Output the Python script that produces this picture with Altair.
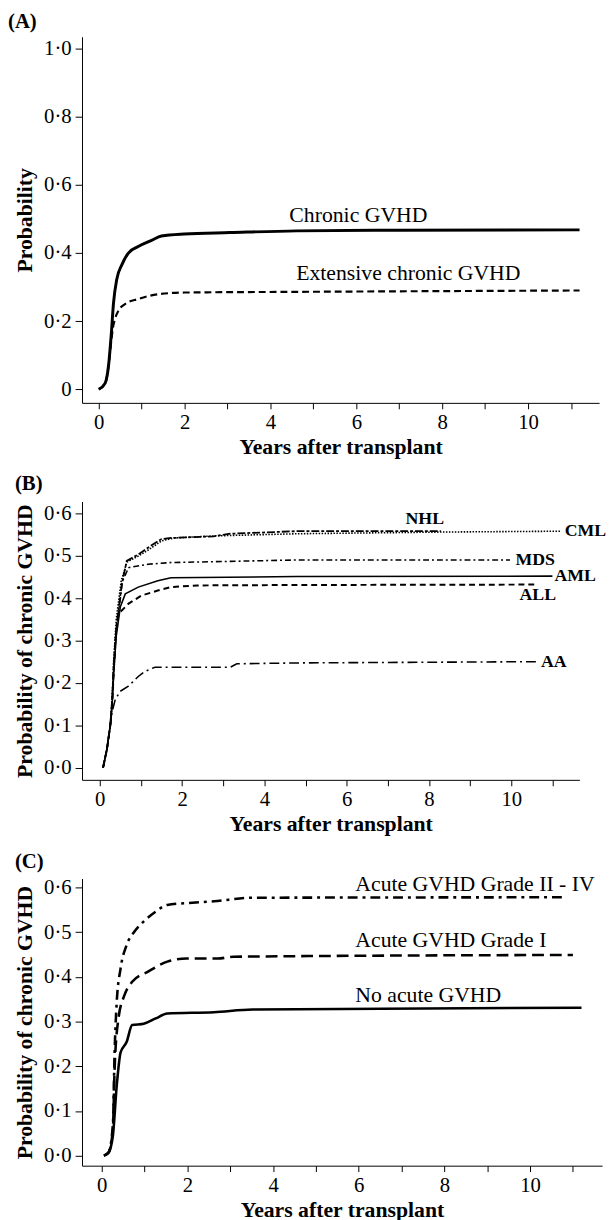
import altair as alt
import pandas as pd

FONT = "Liberation Serif"

# ---------------- Panel A data ----------------
a_chronic_x = [0.0, 0.15, 0.23, 0.29, 0.345, 0.42, 0.54, 0.69, 0.92, 1.23, 1.46, 1.99, 3.06, 4.6, 7.0, 11.2]
a_chronic_y = [0.0, 0.018, 0.072, 0.159, 0.255, 0.323, 0.366, 0.40, 0.419, 0.437, 0.45, 0.456, 0.46, 0.465, 0.467, 0.468]
a_ext_x = [0.0, 0.15, 0.23, 0.29, 0.33, 0.38, 0.46, 0.61, 0.92, 1.38, 1.99, 4.6, 11.2]
a_ext_y = [0.0, 0.018, 0.07, 0.14, 0.18, 0.207, 0.231, 0.25, 0.265, 0.279, 0.284, 0.286, 0.29]
a_labels = ["Chronic GVHD", "Extensive chronic GVHD"]
a_label_x = [4.44, 4.6]
a_label_y = [0.51, 0.342]
a_yticks = [0, 0.2, 0.4, 0.6, 0.8, 1.0]

# ---------------- Panel B data ----------------
b_nhl_x = [0.08, 0.175, 0.256, 0.30, 0.336, 0.40, 0.535, 0.655, 0.935, 1.17, 1.49, 1.73, 2.77, 3.17, 4.77, 8.29]
b_nhl_y = [0.0, 0.044, 0.10, 0.16, 0.24, 0.33, 0.433, 0.488, 0.503, 0.519, 0.539, 0.542, 0.546, 0.552, 0.558, 0.558]
b_cml_x = [0.08, 0.175, 0.256, 0.30, 0.336, 0.40, 0.52, 0.66, 0.95, 1.2, 1.5, 1.8, 2.8, 4.8, 8.3, 11.2]
b_cml_y = [0.0, 0.044, 0.10, 0.16, 0.25, 0.35, 0.44, 0.485, 0.50, 0.515, 0.535, 0.542, 0.547, 0.552, 0.556, 0.558]
b_mds_x = [0.08, 0.175, 0.256, 0.30, 0.336, 0.40, 0.55, 0.70, 1.17, 1.73, 4.77, 9.97]
b_mds_y = [0.0, 0.044, 0.10, 0.15, 0.22, 0.32, 0.44, 0.472, 0.48, 0.484, 0.49, 0.49]
b_aml_x = [0.08, 0.175, 0.256, 0.30, 0.336, 0.40, 0.50, 0.62, 0.935, 1.41, 1.73, 4.77, 11.0]
b_aml_y = [0.0, 0.044, 0.10, 0.15, 0.22, 0.31, 0.38, 0.41, 0.426, 0.441, 0.448, 0.451, 0.452]
b_all_x = [0.08, 0.175, 0.256, 0.30, 0.336, 0.38, 0.455, 0.70, 1.01, 1.41, 1.73, 2.37, 4.77, 10.6]
b_all_y = [0.0, 0.044, 0.10, 0.15, 0.22, 0.30, 0.363, 0.387, 0.406, 0.418, 0.426, 0.43, 0.431, 0.432]
b_aa_x = [0.08, 0.175, 0.256, 0.296, 0.376, 0.496, 0.695, 0.935, 1.1, 1.34, 3.17, 3.33, 4.77, 10.65]
b_aa_y = [0.0, 0.044, 0.099, 0.13, 0.161, 0.18, 0.192, 0.215, 0.227, 0.237, 0.237, 0.245, 0.247, 0.25]
b_labels = ["NHL", "CML", "MDS", "AML", "ALL", "AA"]
b_label_x = [7.43, 11.3, 10.1, 11.05, 10.2, 10.72]
b_label_y = [0.586, 0.558, 0.491, 0.451, 0.407, 0.25]
bc_yticks = [0.0, 0.1, 0.2, 0.3, 0.4, 0.5, 0.6]

# ---------------- Panel C data ----------------
c_none_x = [0.05, 0.16, 0.26, 0.35, 0.44, 0.58, 0.71, 0.98, 1.26, 1.53, 2.62, 3.52, 11.2]
c_none_y = [0.0, 0.007, 0.045, 0.157, 0.231, 0.254, 0.292, 0.295, 0.307, 0.318, 0.321, 0.327, 0.331]
c_g1_x = [0.05, 0.16, 0.26, 0.30, 0.39, 0.53, 0.71, 1.07, 1.53, 1.98, 2.71, 3.07, 11.0]
c_g1_y = [0.0, 0.007, 0.06, 0.194, 0.307, 0.359, 0.389, 0.411, 0.434, 0.441, 0.441, 0.445, 0.449]
c_g24_x = [0.05, 0.16, 0.26, 0.30, 0.35, 0.44, 0.58, 0.76, 0.98, 1.26, 1.53, 1.98, 2.62, 3.52, 10.85]
c_g24_y = [0.0, 0.007, 0.07, 0.231, 0.344, 0.419, 0.471, 0.501, 0.524, 0.546, 0.561, 0.565, 0.569, 0.577, 0.578]
c_labels = ["Acute GVHD Grade II - IV", "Acute GVHD Grade I", "No acute GVHD"]
c_label_x = [5.92, 5.92, 5.92]
c_label_y = [0.607, 0.483, 0.36]

x_ticks = list(range(12))
X_TITLE = "Years after transplant"


def x_axis():
    return alt.Axis(
        title=X_TITLE, values=x_ticks,
        labelExpr="datum.value % 2 == 0 ? datum.label : ''",
        tickSize=6, labelPadding=3, titlePadding=4,
    )


def y_axis(title, ticks, zero_plain):
    if zero_plain:
        expr = "datum.value == 0 ? '0' : replace(format(datum.value, '.1f'), '.', '\u00b7')"
    else:
        expr = "replace(format(datum.value, '.1f'), '.', '\u00b7')"
    return alt.Axis(title=title, values=ticks, labelExpr=expr,
                    tickSize=7, labelPadding=4, titlePadding=7)


def panel(series, labels, xdom, ydom, ytitle, yticks, zero_plain,
          width, height, tag, tag_dx, tag_dy, label_style, interp):
    xa = x_axis()
    ya = y_axis(ytitle, yticks, zero_plain)
    xs = alt.Scale(domain=xdom, nice=False, zero=False)
    ys = alt.Scale(domain=ydom, nice=False, zero=False)
    layers = []
    for xv, yv, dash, sw in series:
        df = pd.DataFrame({"x": xv, "y": yv})
        kw = dict(color="black", strokeWidth=sw, clip=True, interpolate=interp)
        if dash:
            kw["strokeDash"] = dash
        layers.append(
            alt.Chart(df).mark_line(**kw).encode(
                x=alt.X("x:Q", scale=xs, axis=xa),
                y=alt.Y("y:Q", scale=ys, axis=ya),
            )
        )
    lx, ly, lt = labels
    ldf = pd.DataFrame({"x": lx, "y": ly, "t": lt})
    layers.append(
        alt.Chart(ldf).mark_text(align="left", baseline="middle", color="black",
                                 font=FONT, **label_style).encode(
            x=alt.X("x:Q", scale=xs, axis=xa),
            y=alt.Y("y:Q", scale=ys, axis=ya),
            text="t:N",
        )
    )
    tdf = pd.DataFrame({"t": [tag]})
    layers.append(
        alt.Chart(tdf).mark_text(align="left", baseline="middle", color="black",
                                 font=FONT, fontSize=21, fontWeight="bold").encode(
            x=alt.value(tag_dx), y=alt.value(tag_dy), text="t:N",
        )
    )
    return alt.layer(*layers).properties(width=width, height=height)


panel_a = panel(
    [
        (a_chronic_x, a_chronic_y, None, 3),
        (a_ext_x, a_ext_y, [7, 4], 2.2),
    ],
    (a_label_x, a_label_y, a_labels),
    [-0.39, 11.655], [-0.04, 1.035], "Probability", a_yticks, True,
    524, 371, "(A)", -75, -15, dict(fontSize=22), "monotone",
)

panel_b = panel(
    [
        (b_nhl_x, b_nhl_y, [8, 2, 3, 2], 1.8),
        (b_cml_x, b_cml_y, [1.5, 1.5], 1.6),
        (b_mds_x, b_mds_y, [6, 3, 2, 3], 1.6),
        (b_aml_x, b_aml_y, None, 1.6),
        (b_all_x, b_all_y, [6, 4], 2),
        (b_aa_x, b_aa_y, [10, 4, 2, 4], 1.6),
    ],
    (b_label_x, b_label_y, b_labels),
    [-0.432, 11.655], [-0.029, 0.628], "Probability of chronic GVHD", bc_yticks, False,
    504, 282, "(B)", -68, -18, dict(fontSize=18, fontWeight="bold"), "linear",
)

panel_c = panel(
    [
        (c_none_x, c_none_y, None, 2.6),
        (c_g1_x, c_g1_y, [12, 6], 2.6),
        (c_g24_x, c_g24_y, [10, 5, 3, 5], 2.6),
    ],
    (c_label_x, c_label_y, c_labels),
    [-0.461, 11.68], [-0.0225, 0.62], "Probability of chronic GVHD", bc_yticks, False,
    527, 291, "(C)", -68, -17, dict(fontSize=22), "monotone",
)

chart = alt.vconcat(panel_a, panel_b, panel_c, spacing=100, bounds="flush").properties(
    padding={"left": 0, "top": -5, "right": 0, "bottom": 0}
).configure(font=FONT).configure_view(stroke=None).configure_axis(
    grid=False, domainColor="black", tickColor="black", labelColor="black",
    titleColor="black", labelFont=FONT, titleFont=FONT, labelFontSize=21,
    titleFontSize=22, titleFontWeight="bold", domainWidth=1, tickWidth=1,
)

chart.save("out.html", embed_options={"renderer": "svg", "actions": False})
